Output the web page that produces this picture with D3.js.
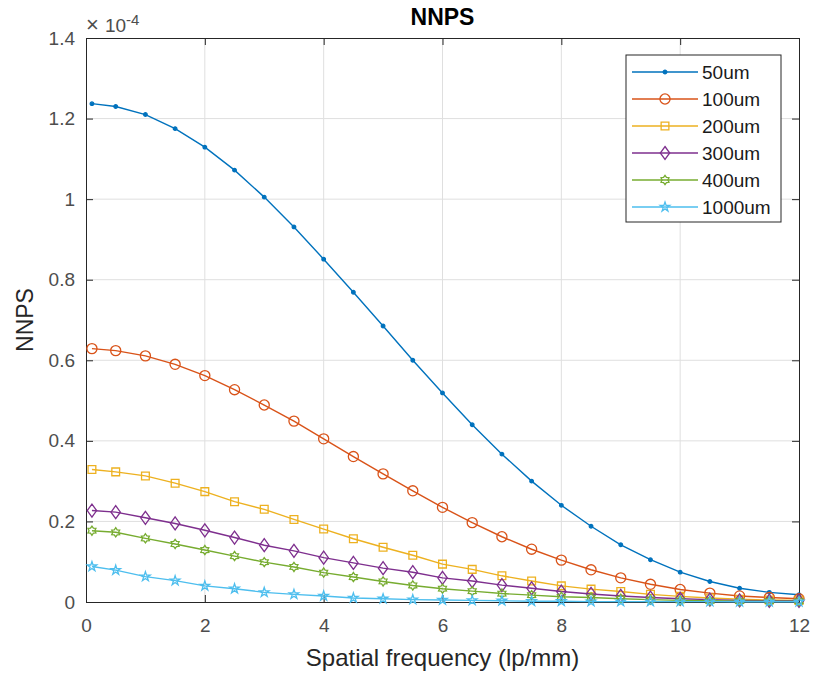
<!DOCTYPE html>
<html>
<head>
<meta charset="utf-8">
<script src="https://cdn.jsdelivr.net/npm/d3@7"></script>
<style>
  body { margin: 0; background: #fff; }
  text { font-family: Arial, "Liberation Sans", sans-serif; }
</style>
</head>
<body>
<svg id="chart" width="814" height="677"></svg>
<script>
// spatial frequency samples (lp/mm)
var freqs = [0.1, 0.5, 1, 1.5, 2, 2.5, 3, 3.5, 4, 4.5, 5, 5.5, 6, 6.5, 7, 7.5, 8, 8.5, 9, 9.5, 10, 10.5, 11, 11.5, 12];

// NNPS values, in units of 1e-4
var nnps50 = [1.237, 1.230, 1.210, 1.175, 1.129, 1.072, 1.005, 0.931, 0.851, 0.769, 0.685, 0.600, 0.519, 0.440, 0.367, 0.300, 0.240, 0.188, 0.142, 0.105, 0.074, 0.051, 0.034, 0.024, 0.018];
var nnps100 = [0.629, 0.624, 0.611, 0.590, 0.562, 0.527, 0.489, 0.449, 0.405, 0.361, 0.318, 0.276, 0.235, 0.197, 0.162, 0.131, 0.104, 0.080, 0.060, 0.044, 0.031, 0.022, 0.015, 0.011, 0.008];
var nnps200 = [0.329, 0.323, 0.313, 0.295, 0.274, 0.249, 0.230, 0.205, 0.181, 0.157, 0.136, 0.116, 0.094, 0.081, 0.065, 0.052, 0.040, 0.032, 0.026, 0.019, 0.014, 0.010, 0.007, 0.005, 0.004];
var nnps300 = [0.227, 0.223, 0.209, 0.195, 0.178, 0.160, 0.141, 0.127, 0.110, 0.097, 0.084, 0.074, 0.060, 0.052, 0.042, 0.034, 0.026, 0.020, 0.015, 0.011, 0.008, 0.006, 0.004, 0.003, 0.003];
var nnps400 = [0.177, 0.173, 0.158, 0.144, 0.129, 0.114, 0.099, 0.087, 0.073, 0.062, 0.051, 0.041, 0.033, 0.027, 0.021, 0.017, 0.013, 0.011, 0.008, 0.006, 0.004, 0.003, 0.002, 0.002, 0.002];
var nnps1000 = [0.088, 0.079, 0.063, 0.053, 0.040, 0.033, 0.024, 0.019, 0.015, 0.010, 0.008, 0.006, 0.005, 0.004, 0.003, 0.002, 0.002, 0.001, 0.001, 0.001, 0.001, 0.001, 0.0005, 0.0005, 0.0005];

var seriesNames = ["50um", "100um", "200um", "300um", "400um", "1000um"];
var seriesValues = [nnps50, nnps100, nnps200, nnps300, nnps400, nnps1000];
var seriesMarkers = ["dot", "circle", "square", "diamond", "hexagram", "pentagram"];
var colors = ["#0072BD", "#D95319", "#EDB120", "#7E2F8E", "#77AC30", "#4DBEEE"];

var xTicks = [0, 2, 4, 6, 8, 10, 12];
var yTicks = [0, 0.2, 0.4, 0.6, 0.8, 1, 1.2, 1.4];

var svg = d3.select("#chart");
var margin = { left: 86, top: 38, right: 15, bottom: 75 };
var width = 814 - margin.left - margin.right;
var height = 677 - margin.top - margin.bottom;

var x = d3.scaleLinear().domain([0, 12]).range([0, width]);
var y = d3.scaleLinear().domain([0, 1.4]).range([height, 0]);

var g = svg.append("g").attr("transform", `translate(${margin.left},${margin.top})`);

// grid
g.append("g").selectAll("line")
  .data(xTicks.slice(1, -1))
  .enter().append("line")
  .attr("x1", d => x(d)).attr("x2", d => x(d))
  .attr("y1", 0).attr("y2", height)
  .attr("stroke", "#dfdfdf").attr("stroke-width", 1);
g.append("g").selectAll("line")
  .data(yTicks.slice(1, -1))
  .enter().append("line")
  .attr("y1", d => y(d)).attr("y2", d => y(d))
  .attr("x1", 0).attr("x2", width)
  .attr("stroke", "#dfdfdf").attr("stroke-width", 1);

// axes (MATLAB style: ticks inside, box on)
var fmt = d => String(+d.toFixed(1));
function styleAxis(sel) {
  sel.select(".domain").attr("stroke", "#262626");
  sel.selectAll(".tick line").attr("stroke", "#262626");
  sel.selectAll(".tick text").attr("fill", "#4d4d4d").style("font-size", "19px")
    .style("font-family", "Arial, 'Liberation Sans', sans-serif");
}
g.append("g").attr("transform", `translate(0,${height})`)
  .call(d3.axisBottom(x).tickValues(xTicks).tickSizeInner(-7).tickSizeOuter(0).tickPadding(17).tickFormat(fmt))
  .call(styleAxis);
g.append("g")
  .call(d3.axisLeft(y).tickValues(yTicks).tickSizeInner(-7).tickSizeOuter(0).tickPadding(11).tickFormat(fmt))
  .call(styleAxis);
g.append("g")
  .call(d3.axisTop(x).tickValues(xTicks).tickSizeInner(-7).tickSizeOuter(0).tickFormat(""))
  .call(styleAxis);
g.append("g").attr("transform", `translate(${width},0)`)
  .call(d3.axisRight(y).tickValues(yTicks).tickSizeInner(-7).tickSizeOuter(0).tickFormat(""))
  .call(styleAxis);

// marker shapes
function markerPath(type) {
  if (type === "circle") return d3.symbol(d3.symbolCircle, 80)();
  if (type === "square") return d3.symbol(d3.symbolSquare, 60)();
  if (type === "diamond") {
    return "M0,-6.5L4.7,0L0,6.5L-4.7,0Z";
  }
  if (type === "hexagram") {
    var pts = [];
    for (var i = 0; i < 12; i++) {
      var r = i % 2 === 0 ? 4.6 : 2.9;
      var a = Math.PI / 6 * i;
      pts.push([r * Math.sin(a), -r * Math.cos(a)]);
    }
    return "M" + pts.join("L") + "Z";
  }
  if (type === "pentagram") return d3.symbol(d3.symbolStar, 28)();
  return d3.symbol(d3.symbolCircle, 10)();
}

var line = d3.line().x((d, i) => x(freqs[i])).y(d => y(d));

seriesValues.forEach(function(vals, k) {
  var sg = g.append("g");
  sg.append("path")
    .datum(vals)
    .attr("d", line)
    .attr("fill", "none")
    .attr("stroke", colors[k])
    .attr("stroke-width", 1.4);
  sg.selectAll("path.mk")
    .data(vals)
    .enter().append("path")
    .attr("class", "mk")
    .attr("d", markerPath(seriesMarkers[k]))
    .attr("transform", (d, i) => `translate(${x(freqs[i])},${y(d)})`)
    .attr("fill", seriesMarkers[k] === "dot" ? colors[k] : "none")
    .attr("stroke", colors[k])
    .attr("stroke-width", 1.3);
});

// title and labels
svg.append("text")
  .attr("x", margin.left + width / 2).attr("y", 25)
  .attr("text-anchor", "middle")
  .style("font-size", "23px").style("font-weight", "bold").attr("fill", "#000")
  .text("NNPS");
svg.append("text")
  .attr("x", margin.left + width / 2).attr("y", 666)
  .attr("text-anchor", "middle")
  .style("font-size", "24px").attr("fill", "#262626")
  .text("Spatial frequency (lp/mm)");
svg.append("text")
  .attr("transform", `translate(33,${margin.top + height / 2}) rotate(-90)`)
  .attr("text-anchor", "middle")
  .style("font-size", "23px").attr("fill", "#262626")
  .text("NNPS");

// exponent
var ex = svg.append("text").attr("fill", "#4d4d4d");
ex.append("tspan").attr("x", 86).attr("y", 32).style("font-size", "22px").text("\u00d7");
ex.append("tspan").attr("x", 105).attr("y", 32).style("font-size", "19px").text("10");
ex.append("tspan").attr("x", 126).attr("y", 25).style("font-size", "15px").text("-4");

// legend
var leg = svg.append("g").attr("transform", "translate(626,55)");
leg.append("rect")
  .attr("width", 155).attr("height", 167)
  .attr("fill", "#fff").attr("stroke", "#262626").attr("stroke-width", 1);
var items = leg.selectAll("g.item")
  .data(seriesNames)
  .enter().append("g")
  .attr("class", "item")
  .attr("transform", (d, i) => `translate(0,${17 + i * 27})`);
items.append("line")
  .attr("x1", 6).attr("x2", 72)
  .attr("stroke", (d, i) => colors[i]).attr("stroke-width", 1.4);
items.append("path")
  .attr("d", (d, i) => markerPath(seriesMarkers[i]))
  .attr("transform", "translate(39,0)")
  .attr("fill", (d, i) => seriesMarkers[i] === "dot" ? colors[i] : "none")
  .attr("stroke", (d, i) => colors[i]).attr("stroke-width", 1.3);
items.append("text")
  .attr("x", 76).attr("y", 7)
  .style("font-size", "19px").attr("fill", "#1a1a1a")
  .text(d => d);
</script>
</body>
</html>
